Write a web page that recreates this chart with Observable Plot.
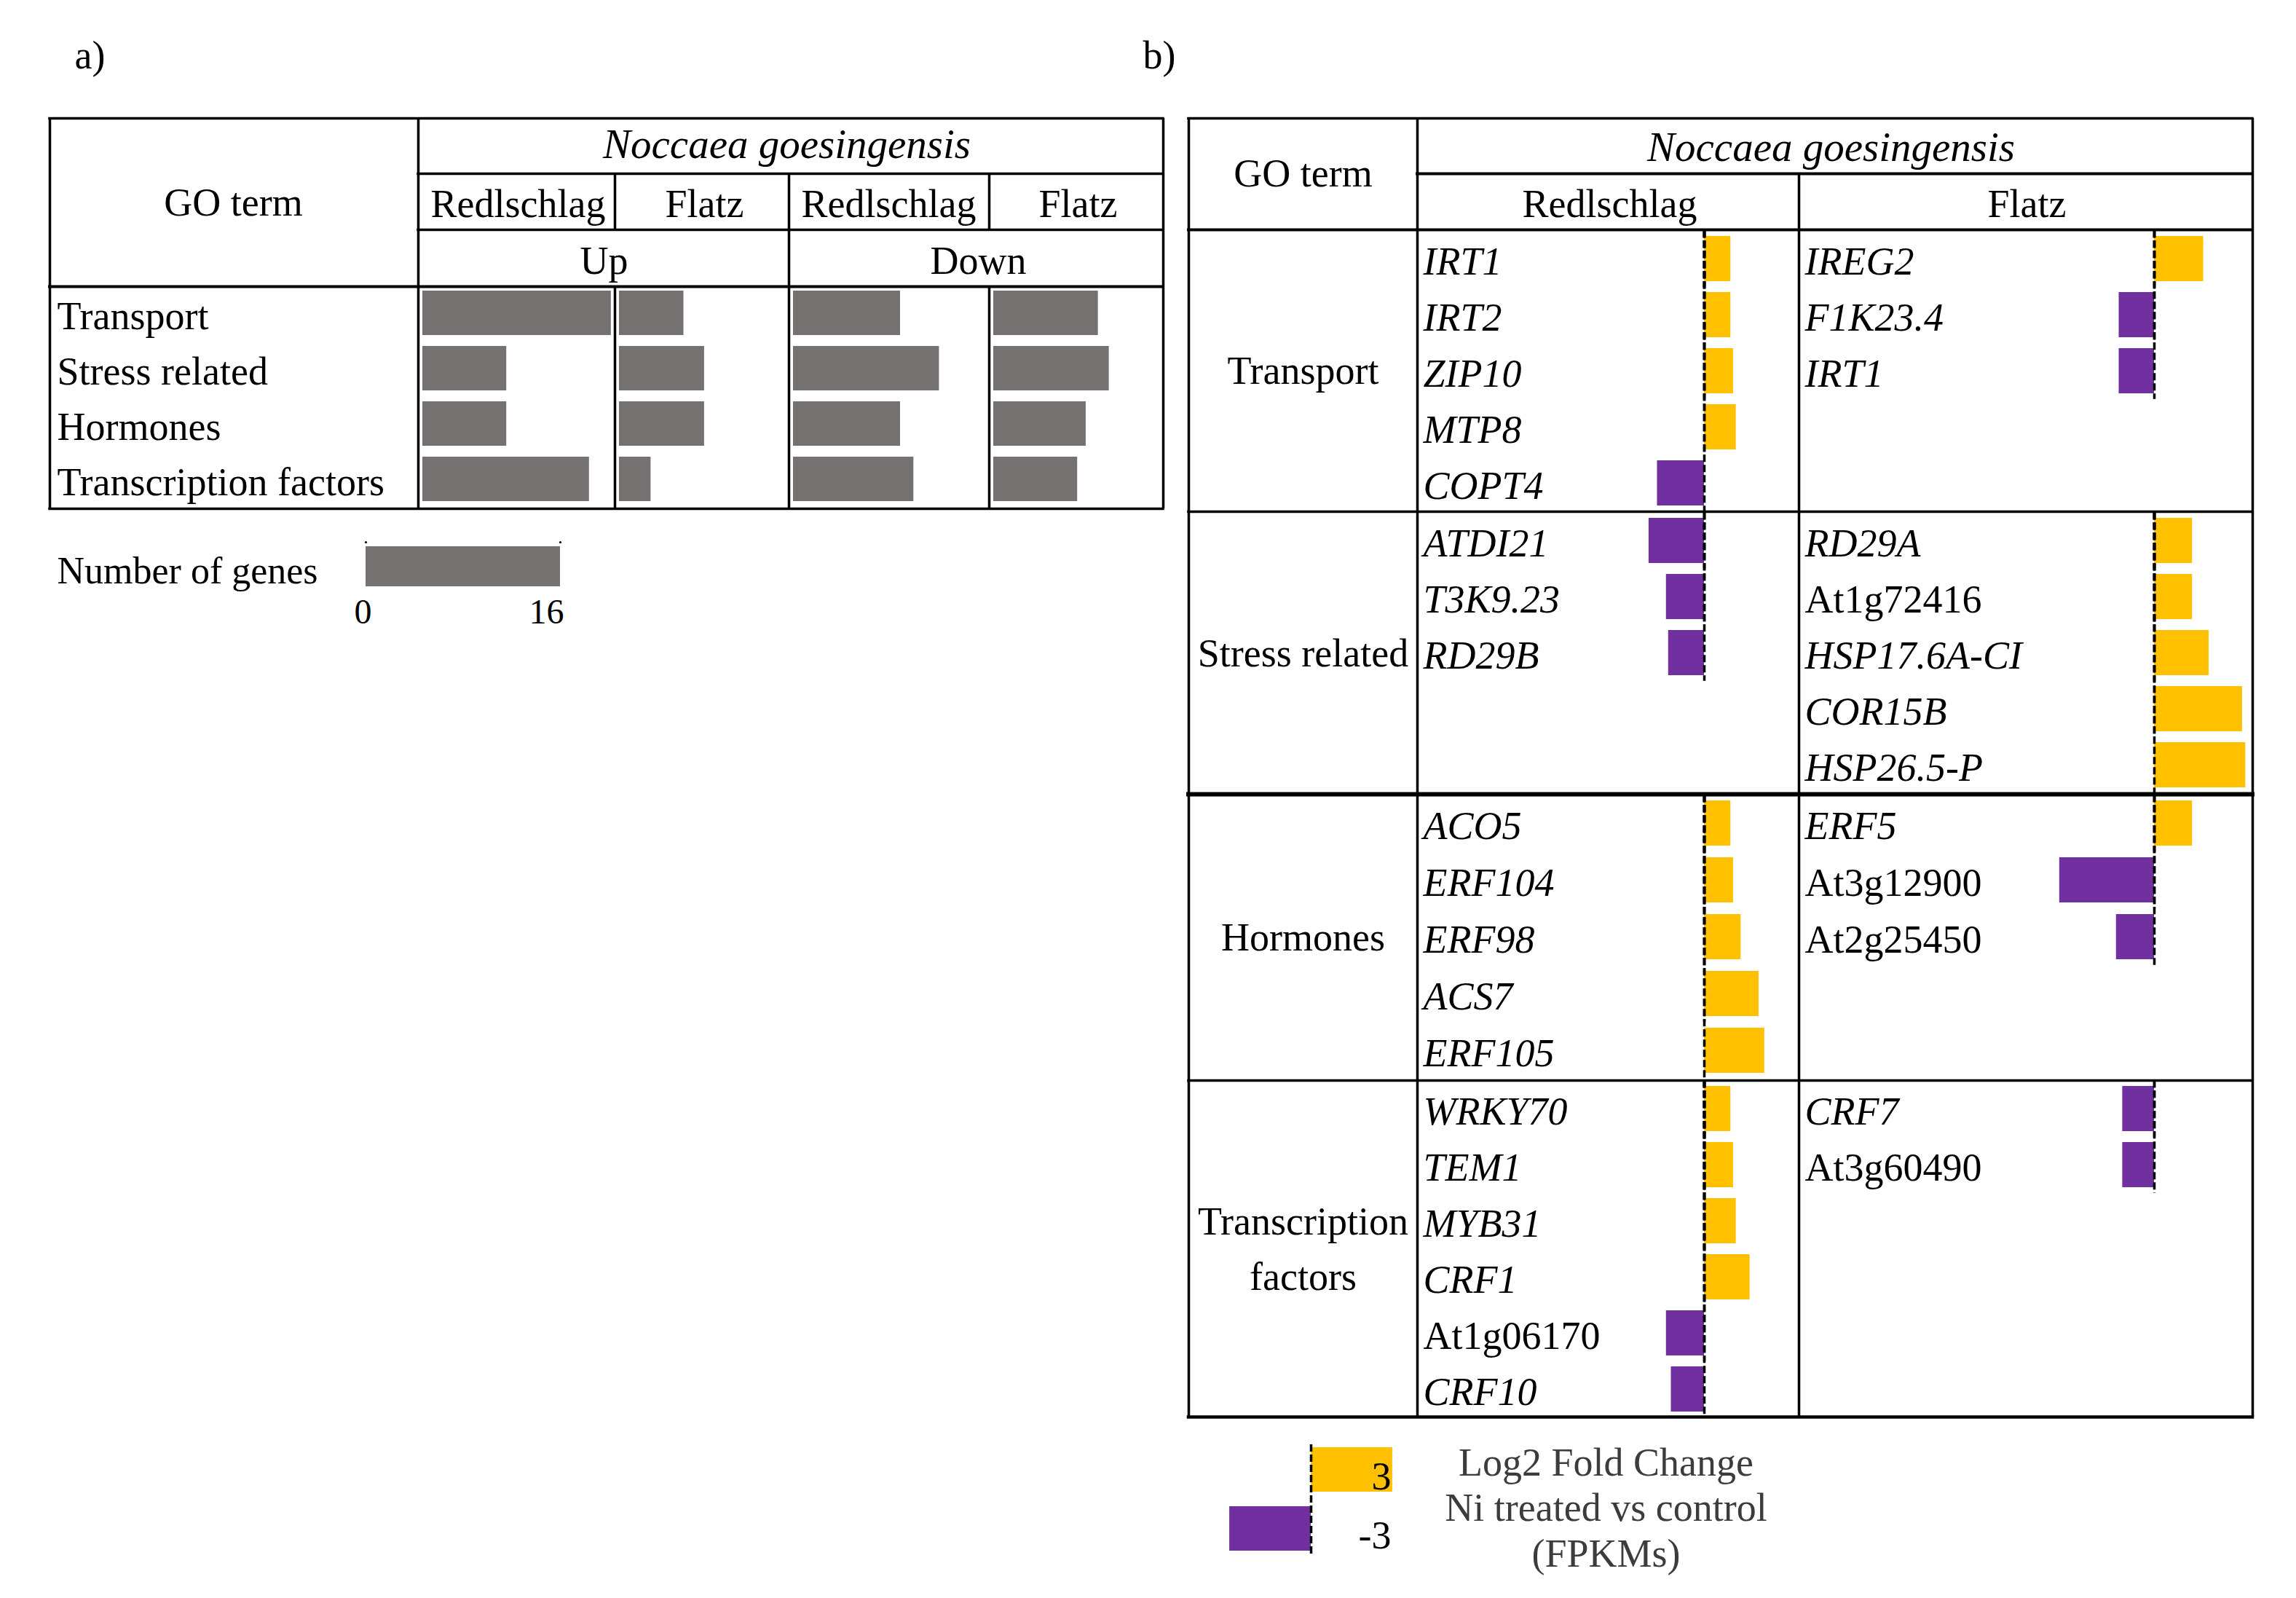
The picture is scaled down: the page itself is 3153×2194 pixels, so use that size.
<!DOCTYPE html>
<html>
<head>
<meta charset="utf-8">
<script src="https://cdn.jsdelivr.net/npm/d3@7"></script>
<script src="https://cdn.jsdelivr.net/npm/@observablehq/plot@0.6"></script>
<style>
  html, body { margin: 0; padding: 0; background: #ffffff; }
  #fig { position: relative; width: 3153px; height: 2194px; background: #ffffff; overflow: hidden; }
  #fig svg { position: absolute; }
</style>
</head>
<body>
<div id="fig"></div>
<script>
// ================= DATA =================
const goTerms = ["Transport", "Stress related", "Hormones", "Transcription factors"];
const populations = ["Redlschlag", "Flatz"];
const directions = ["Up", "Down"];
const species = "Noccaea goesingensis";
const panelNames = ["a)", "b)"];

// a) number of genes per GO term (read from bar lengths)
const upRedlschlag   = [15.5, 6.9, 6.9, 13.7];
const upFlatz        = [5.3, 7.0, 7.0, 2.6];
const downRedlschlag = [8.8, 12.0, 8.8, 9.9];
const downFlatz      = [8.6, 9.5, 7.6, 6.9];
const geneCountTicks = [0, 16];
const geneCountLabel = "Number of genes";

// b) Log2 fold change, Ni treated vs control
const transportRedlGenes = ["IRT1", "IRT2", "ZIP10", "MTP8", "COPT4"];
const transportRedlFC    = [0.97, 0.97, 1.07, 1.17, -1.73];
const transportFlatzGenes = ["IREG2", "F1K23.4", "IRT1"];
const transportFlatzFC    = [1.81, -1.30, -1.30];

const stressRedlGenes = ["ATDI21", "T3K9.23", "RD29B"];
const stressRedlFC    = [-2.04, -1.40, -1.32];
const stressFlatzGenes = ["RD29A", "At1g72416", "HSP17.6A-CI", "COR15B", "HSP26.5-P"];
const stressFlatzFC    = [1.40, 1.40, 2.01, 3.24, 3.36];

const hormoneRedlGenes = ["ACO5", "ERF104", "ERF98", "ACS7", "ERF105"];
const hormoneRedlFC    = [0.97, 1.07, 1.35, 2.01, 2.22];
const hormoneFlatzGenes = ["ERF5", "At3g12900", "At2g25450"];
const hormoneFlatzFC    = [1.40, -3.49, -1.40];

const tfRedlGenes = ["WRKY70", "TEM1", "MYB31", "CRF1", "At1g06170", "CRF10"];
const tfRedlFC    = [0.97, 1.07, 1.17, 1.68, -1.40, -1.22];
const tfFlatzGenes = ["CRF7", "At3g60490"];
const tfFlatzFC    = [-1.17, -1.17];

const foldChangeTicks = [3, -3];
const legendTitle = ["Log2 Fold Change", "Ni treated vs control", "(FPKMs)"];

// ================= STYLE / LAYOUT =================
const FONT = "'Liberation Serif', 'Times New Roman', serif";
const GREY = "#767171", YELLOW = "#FFC000", PURPLE = "#7030A0";
const FS = 54;
const plotStyle = {background: "transparent", overflow: "visible", fontFamily: FONT, fontSize: FS + "px", color: "#000", maxWidth: "none"};

// panel a geometry
const A = {left: 68, right: 1597, top: 162, bottom: 698, goRight: 574,
  hSpecies: 238, hPop: 315, hDir: 393, cols: [574, 844, 1083, 1358, 1597],
  bodyTop: 390, bodyH: 306, barInset: 6, unit: 16.7};
// panel b geometry
const B = {left: 1632, right: 3093, top: 162, bottom: 1945, goRight: 1946, popDiv: 2470,
  hSpecies: 238, hPop: 315, sectionTops: [315, 702, 1090, 1483, 1945],
  zero: [2340, 2958], unit: 37.3};

const fig = document.getElementById("fig");
function place(svg, left, top) {
  svg.style.left = left + "px";
  svg.style.top = top + "px";
  fig.appendChild(svg);
}
const isItalic = g => !/^At\dg/.test(g);

// ================= BASE: table grid + header text =================
const hLines = [
  {x1: A.left, x2: A.right, y: A.top, w: 3.5},
  {x1: A.goRight, x2: A.right, y: A.hSpecies, w: 3.5},
  {x1: A.goRight, x2: A.right, y: A.hPop, w: 3.5},
  {x1: A.left, x2: A.right, y: A.hDir, w: 4},
  {x1: A.left, x2: A.right, y: A.bottom, w: 3.5},
  {x1: B.left, x2: B.right, y: B.top, w: 3.5},
  {x1: B.goRight, x2: B.right, y: B.hSpecies, w: 4},
  {x1: B.left, x2: B.right, y: B.hPop, w: 4},
  {x1: B.left, x2: B.right, y: B.sectionTops[1], w: 3.5},
  {x1: B.left, x2: B.right, y: B.sectionTops[2], w: 6},
  {x1: B.left, x2: B.right, y: B.sectionTops[3], w: 3.5},
  {x1: B.left, x2: B.right, y: B.bottom, w: 4.5}
];
const vLines = [
  {x: A.left, y1: A.top, y2: A.bottom},
  {x: A.goRight, y1: A.top, y2: A.bottom},
  {x: A.cols[1], y1: A.hSpecies, y2: A.hPop},
  {x: A.cols[1], y1: A.hDir, y2: A.bottom},
  {x: A.cols[2], y1: A.hSpecies, y2: A.bottom},
  {x: A.cols[3], y1: A.hSpecies, y2: A.hPop},
  {x: A.cols[3], y1: A.hDir, y2: A.bottom},
  {x: A.right, y1: A.top, y2: A.bottom},
  {x: B.left, y1: B.top, y2: B.bottom},
  {x: B.goRight, y1: B.top, y2: B.bottom},
  {x: B.popDiv, y1: B.hSpecies, y2: B.bottom},
  {x: B.right, y1: B.top, y2: B.bottom}
];
const plainTexts = [
  {x: 320, y: 295, text: "GO term"},
  {x: 711, y: 297, text: populations[0]},
  {x: 967, y: 297, text: populations[1]},
  {x: 1220, y: 297, text: populations[0]},
  {x: 1480, y: 297, text: populations[1]},
  {x: 829, y: 375, text: directions[0]},
  {x: 1343, y: 375, text: directions[1]},
  {x: 1789, y: 255, text: "GO term"},
  {x: 2210, y: 297, text: populations[0]},
  {x: 2783, y: 297, text: populations[1]}
];
const italicTexts = [
  {x: 1080, y: 216, text: species},
  {x: 2514, y: 220, text: species}
];
const sectionLabels = goTerms.map((t, i) => ({
  x: 1789,
  y: (B.sectionTops[i] + B.sectionTops[i + 1]) / 2 - 6,
  text: t === "Transcription factors" ? "Transcription\nfactors" : t
}));
const titleLines = legendTitle.map((t, i) => ({x: 2205, y: 2025 + i * 62.5, text: t}));
const panelLabelData = [{x: 102, y: 93, text: panelNames[0]}, {x: 1569, y: 93, text: panelNames[1]}];

place(Plot.plot({
  width: 3153, height: 2194, margin: 0,
  x: {type: "identity", axis: null}, y: {type: "identity", axis: null},
  style: plotStyle,
  marks: [
    Plot.ruleY(hLines, {y: "y", x1: "x1", x2: "x2", strokeWidth: "w", stroke: "#000", strokeLinecap: "square"}),
    Plot.ruleX(vLines, {x: "x", y1: "y1", y2: "y2", strokeWidth: 3.5, stroke: "#000"}),
    Plot.text(plainTexts, {x: "x", y: "y", text: "text", lineAnchor: "bottom", fontSize: FS, fontFamily: FONT, fill: "#000"}),
    Plot.text(italicTexts, {x: "x", y: "y", text: "text", lineAnchor: "bottom", fontSize: 57, fontStyle: "italic", fontFamily: FONT, fill: "#000"}),
    Plot.text(sectionLabels, {x: "x", y: "y", text: "text", lineAnchor: "middle", lineHeight: 1.41, fontSize: FS, fontFamily: FONT, fill: "#000"}),
    Plot.text(titleLines, {x: "x", y: "y", text: "text", lineAnchor: "bottom", fontSize: FS, fontFamily: FONT, fill: "#3c3c3c"}),
    Plot.text(panelLabelData, {x: "x", y: "y", text: "text", lineAnchor: "bottom", textAnchor: "start", fontSize: 54, fontFamily: FONT, fill: "#000"}),
    Plot.text([geneCountLabel], {x: () => 78, y: () => 800, text: d => d, lineAnchor: "bottom", textAnchor: "start", fontSize: 52, fontFamily: FONT, fill: "#000"})
  ]
}), 0, 0);

// ================= PANEL a: bars =================
const yA = {type: "band", domain: goTerms, paddingInner: 0.2, paddingOuter: 0.1, axis: null};

// row labels in GO term column
place(Plot.plot({
  width: A.goRight - A.left, height: A.bodyH, margin: 0,
  y: yA, style: plotStyle,
  marks: [Plot.text(goTerms, {y: d => d, text: d => d, frameAnchor: "left", textAnchor: "start", dx: 10, dy: 5, fontSize: FS, fontFamily: FONT, fill: "#000"})]
}), A.left, A.bodyTop);

const countColumns = [upRedlschlag, upFlatz, downRedlschlag, downFlatz];
countColumns.forEach((vals, c) => {
  const left = A.cols[c] + A.barInset;
  const width = A.cols[c + 1] - left;
  const data = goTerms.map((t, i) => ({term: t, n: vals[i]}));
  place(Plot.plot({
    width, height: A.bodyH, margin: 0,
    x: {domain: [0, width / A.unit], axis: null},
    y: yA, style: plotStyle,
    marks: [Plot.barX(data, {x1: 0, x2: "n", y: "term", fill: GREY})]
  }), left, A.bodyTop);
});

// legend a
{
  const left = 470, top = 741, width = 330, height = 130;
  const x0 = 502 - left, x1 = 769 - left;
  place(Plot.plot({
    width, height, margin: 0,
    x: {domain: [geneCountTicks[0], geneCountTicks[1]], range: [x0, x1], axis: null},
    y: {type: "band", domain: [geneCountLabel], range: [750 - top, 805 - top], padding: 0, axis: null},
    style: plotStyle,
    marks: [
      Plot.barX([geneCountTicks[1]], {x1: geneCountTicks[0], x2: d => d, y: () => geneCountLabel, fill: GREY}),
      Plot.dot(geneCountTicks, {x: d => d, frameAnchor: "top", dx: 0, dy: 3, r: 1.6, fill: "#000"}),
      Plot.text([geneCountTicks[0]], {x: d => d, text: d => String(d), frameAnchor: "bottom", lineAnchor: "bottom", dy: -16, dx: -4, fontSize: 48, fontFamily: FONT, fill: "#000"}),
      Plot.text([geneCountTicks[1]], {x: d => d, text: d => String(d), frameAnchor: "bottom", lineAnchor: "bottom", dy: -16, dx: 5, textAnchor: "end", fontSize: 48, fontFamily: FONT, fill: "#000"})
    ]
  }), left, top);
}

// ================= PANEL b: fold-change bars =================
const sections = [
  {redl: [transportRedlGenes, transportRedlFC], flatz: [transportFlatzGenes, transportFlatzFC]},
  {redl: [stressRedlGenes, stressRedlFC], flatz: [stressFlatzGenes, stressFlatzFC]},
  {redl: [hormoneRedlGenes, hormoneRedlFC], flatz: [hormoneFlatzGenes, hormoneFlatzFC]},
  {redl: [tfRedlGenes, tfRedlFC], flatz: [tfFlatzGenes, tfFlatzFC]}
];

function fcPlot(genes, fc, slots, left, right, zeroPx, top, height) {
  const width = right - left;
  const zero = zeroPx - left;
  const data = genes.map((g, i) => ({gene: g, fc: fc[i], slot: i, italic: isItalic(g)}));
  const step = height / slots;
  const textOpts = {y: "slot", text: "gene", frameAnchor: "left", textAnchor: "start", dx: 8, dy: 4, fontSize: FS, fontFamily: FONT, fill: "#000"};
  return Plot.plot({
    width, height, margin: 0,
    x: {domain: [-zero / B.unit, (width - zero) / B.unit], axis: null},
    y: {type: "band", domain: d3.range(slots), paddingInner: 0.2, paddingOuter: 0.1, axis: null},
    style: plotStyle,
    marks: [
      Plot.barX(data, {x1: 0, x2: "fc", y: "slot", fill: d => d.fc > 0 ? YELLOW : PURPLE}),
      Plot.ruleX(data, {x: 0, y: "slot", stroke: "#000", strokeWidth: 3.5, strokeDasharray: "10,4", insetTop: -step * 0.1, insetBottom: -step * 0.1}),
      Plot.text(data.filter(d => d.italic), {...textOpts, fontStyle: "italic"}),
      Plot.text(data.filter(d => !d.italic), textOpts)
    ]
  });
}

sections.forEach((s, i) => {
  const top = B.sectionTops[i];
  const height = B.sectionTops[i + 1] - top;
  const slots = Math.max(s.redl[0].length, s.flatz[0].length);
  place(fcPlot(s.redl[0], s.redl[1], slots, B.goRight, B.popDiv, B.zero[0], top, height), B.goRight, top);
  place(fcPlot(s.flatz[0], s.flatz[1], slots, B.popDiv, B.right, B.zero[1], top, height), B.popDiv, top);
});

// legend b
{
  const left = 1660, top = 1983, width = 300, height = 150;
  const zero = 1800 - left;
  const data = foldChangeTicks.map(v => ({v}));
  place(Plot.plot({
    width, height, margin: 0,
    x: {domain: [-zero / B.unit, (width - zero) / B.unit], axis: null},
    y: {type: "band", domain: foldChangeTicks, range: [1987 - top, 2129 - top], paddingInner: 0.25, paddingOuter: 0, axis: null},
    style: plotStyle,
    marks: [
      Plot.barX(data, {x1: 0, x2: "v", y: "v", fill: d => d.v > 0 ? YELLOW : PURPLE}),
      Plot.ruleX([0], {stroke: "#000", strokeWidth: 3.5, strokeDasharray: "10,4"}),
      Plot.text(data, {x: () => foldChangeTicks[0], y: "v", text: d => String(d.v), textAnchor: "end", dx: -2, dy: 10, fontSize: FS, fontFamily: FONT, fill: "#000"})
    ]
  }), left, top);
}
</script>
</body>
</html>
